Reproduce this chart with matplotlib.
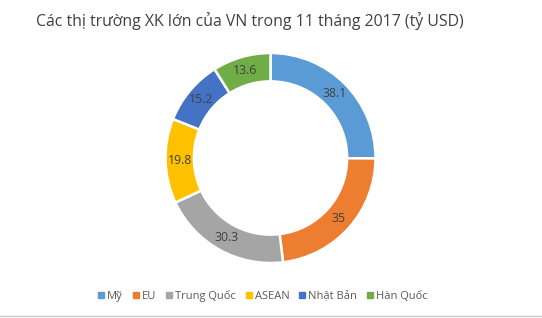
import matplotlib
matplotlib.use("Agg")
import matplotlib.pyplot as plt
from matplotlib.lines import Line2D
import numpy as np

markets = ["Mỹ", "EU", "Trung Quốc", "ASEAN", "Nhật Bản", "Hàn Quốc"]
values = [38.1, 35, 30.3, 19.8, 15.2, 13.6]
labels = ["38.1", "35", "30.3", "19.8", "15.2", "13.6"]
colors = ["#5B9BD5", "#ED7D31", "#A5A5A5", "#FFC000", "#4472C4", "#70AD47"]

plt.rcParams["font.family"] = ["Open Sans", "DejaVu Sans"]

W, H = 542, 318
fig = plt.figure(figsize=(W / 100, H / 100), dpi=100)

cx, cy, r = 270.5, 160, 105
ax = fig.add_axes([(cx - r) / W, (cy - r) / H, 2 * r / W, 2 * r / H])
ring = 0.27
wedges, _ = ax.pie(values, colors=colors, startangle=90, counterclock=False,
                   radius=1, wedgeprops=dict(width=ring, edgecolor="white", linewidth=1.8))
ax.set_xlim(-1, 1)
ax.set_ylim(-1, 1)
ax.set_aspect("equal")
ax.axis("off")

rl = 1 - ring / 2
for w, lab in zip(wedges, labels):
    ang = np.deg2rad((w.theta1 + w.theta2) / 2)
    ax.text(rl * np.cos(ang), rl * np.sin(ang), lab, ha="center", va="center",
            fontsize=8.8, color="#404040")

fig.text(250 / W, 1 - 21 / H, "Các thị trường XK lớn của VN trong 11 tháng 2017 (tỷ USD)",
         ha="center", va="center", fontsize=11.4, color="#404040")

handles = [Line2D([0], [0], marker="s", linestyle="", markersize=4,
                  markerfacecolor=c, markeredgecolor=c) for c in colors]
fig.legend(handles, markets, loc="center", bbox_to_anchor=(263 / W, 1 - 296 / H),
           ncol=6, frameon=False, fontsize=8, handlelength=0.5, handletextpad=0.3,
           columnspacing=0.9, labelcolor="#595959")

fig.add_artist(Line2D([0, 1], [1 - 315.5 / H] * 2, color="#C8C8C8", linewidth=1))

fig.savefig("out.png", dpi=100, facecolor="white")
